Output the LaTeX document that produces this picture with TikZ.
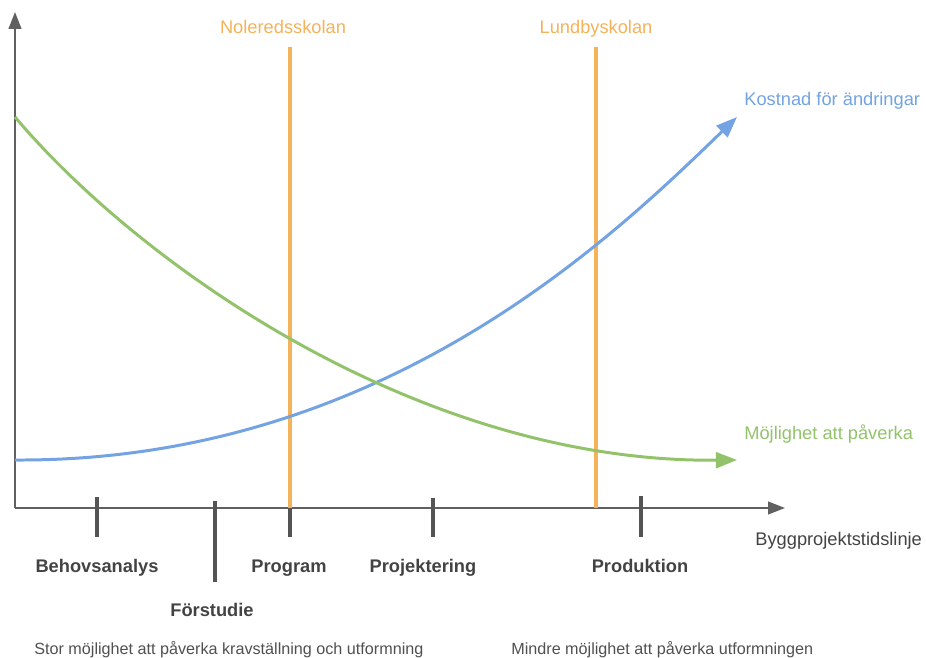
\documentclass[tikz,border=0pt]{standalone}
\usepackage{fontspec}
\setmainfont{Liberation Sans}
\usetikzlibrary{arrows.meta}
\definecolor{axisgray}{RGB}{96,96,96}
\definecolor{tickgray}{RGB}{84,84,84}
\definecolor{labelgray}{RGB}{67,67,67}
\definecolor{notegray}{RGB}{80,80,80}
\definecolor{skolorange}{RGB}{244,178,90}
\definecolor{kostblue}{RGB}{115,163,226}
\definecolor{mojgreen}{RGB}{146,195,106}

\begin{document}
\begin{tikzpicture}[x=0.02cm, y=-0.02cm,
        axis/.style={draw=axisgray, line width=1.1pt, -{Triangle[length=9.6pt, width=7.2pt]}},
        fastick/.style={draw=tickgray, line width=1.8pt},
        skollinje/.style={draw=skolorange, line width=1.8pt},
        kurva/.style={line width=1.7pt, -{Triangle[length=12pt, width=9pt]}},
        fas/.style={anchor=base, inner sep=0pt, text=labelgray, font=\fontsize{10.4}{12}\selectfont\bfseries},
        etikett/.style={anchor=base west, inner sep=0pt, font=\fontsize{10.4}{12}\selectfont},
        skolnamn/.style={anchor=base, inner sep=0pt, text=skolorange, font=\fontsize{10.4}{12}\selectfont},
        notis/.style={anchor=base west, inner sep=0pt, text=notegray, font=\fontsize{9.2}{11}\selectfont}]
    \useasboundingbox (0,0) rectangle (926,658);

    \coordinate (origo) at (15,508);
    \coordinate (ytopp) at (15,12);
    \coordinate (xslut) at (785,508);
    \draw[axis] (origo) -- (ytopp);
    \draw[axis] (origo) -- (xslut);

    \foreach \n/\x/\a/\b in {behov/97/497/537, forstudie/215/501/582, program/290/498/537,
                              projektering/433/498/537, produktion/641/496/537}{
        \coordinate (\n-a) at (\x,\a);
        \coordinate (\n-b) at (\x,\b);
        \draw[fastick] (\n-a) -- (\n-b);
    }

    \coordinate (nol-a) at (290,47);
    \coordinate (nol-b) at (290,508);
    \coordinate (lund-a) at (596,47);
    \coordinate (lund-b) at (596,508);
    \draw[skollinje] (nol-a) -- (nol-b);
    \draw[skollinje] (lund-a) -- (lund-b);
    \node[skolnamn] (nolered) at (283,34) {Noleredsskolan};
    \node[skolnamn] (lundby) at (596,34) {Lundbyskolan};

    \coordinate (kost-a) at (15,460);
    \coordinate (kost-b) at (737,117);
    \draw[kurva, draw=kostblue] (kost-a) .. controls (380,462) and (610,240) .. (kost-b);
    \coordinate (moj-a) at (15,117);
    \coordinate (moj-b) at (737,460);
    \draw[kurva, draw=mojgreen] (moj-a) .. controls (140,265) and (420,463) .. (moj-b);

    \node[etikett, text=kostblue] (kostnad) at (744,106) {Kostnad för ändringar};
    \node[etikett, text=mojgreen] (mojlighet) at (744,439) {Möjlighet att påverka};
    \node[etikett, text=labelgray] (tidslinje) at (755,545) {Byggprojektstidslinje};

    \node[fas] (behovsanalys) at (97,572) {Behovsanalys};
    \node[fas] (forstudietext) at (212,616) {Förstudie};
    \node[fas] (programtext) at (289,572) {Program};
    \node[fas] (projekteringtext) at (423,572) {Projektering};
    \node[fas] (produktiontext) at (640,572) {Produktion};

    \node[notis] (stor) at (34,654) {Stor möjlighet att påverka kravställning och utformning};
    \node[notis] (mindre) at (511,654) {Mindre möjlighet att påverka utformningen};
\end{tikzpicture}
\end{document}
